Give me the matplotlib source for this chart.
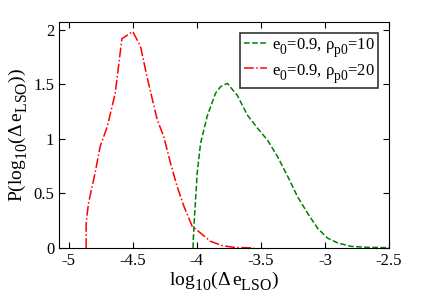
import matplotlib
matplotlib.use('Agg')
import matplotlib.pyplot as plt
import matplotlib._mathtext as mathtext_internal
import numpy as np

plt.rcParams['font.family'] = ['Liberation Serif', 'DejaVu Serif']
plt.rcParams['mathtext.fontset'] = 'custom'
plt.rcParams['mathtext.rm'] = 'Liberation Serif'
plt.rcParams['mathtext.it'] = 'Liberation Serif'
plt.rcParams['axes.unicode_minus'] = False
# MATLAB-style subscripts: a bit larger and lower than matplotlib's default
mathtext_internal.SHRINK_FACTOR = 0.82
mathtext_internal.FontConstantsBase.sub1 = 0.65
mathtext_internal.FontConstantsBase.sub2 = 0.75

# e0=0.9, rho_p0=10 (green dashed)
x_g = [-4.029, -4.029, -4.018, -3.997, -3.971, -3.919, -3.854, -3.815, -3.762, -3.684,
       -3.606, -3.527, -3.449, -3.371, -3.292, -3.214, -3.136, -3.057, -2.979, -2.90,
       -2.796, -2.666, -2.50]
y_g = [0.0, 0.05, 0.29, 0.69, 0.96, 1.21, 1.42, 1.48, 1.51, 1.40,
       1.22, 1.10, 0.99, 0.84, 0.66, 0.47, 0.32, 0.18, 0.09, 0.046,
       0.015, 0.006, 0.003]

# e0=0.9, rho_p0=20 (red dash-dot)
x_r = [-4.864, -4.864, -4.846, -4.794, -4.755, -4.70, -4.637, -4.585, -4.546, -4.50,
       -4.44, -4.389, -4.31, -4.258, -4.206, -4.154, -4.10, -4.037, -3.971, -3.893,
       -3.80, -3.71, -3.553]
y_r = [0.0, 0.23, 0.41, 0.69, 0.93, 1.11, 1.42, 1.92, 1.95, 1.985,
       1.85, 1.57, 1.18, 1.02, 0.78, 0.565, 0.38, 0.20, 0.137, 0.061,
       0.021, 0.006, 0.0]

xticks = [-5, -4.5, -4, -3.5, -3, -2.5]
yticks = [0, 0.5, 1, 1.5, 2]

fig = plt.figure(figsize=(4.31, 3.05), dpi=100)
ax = fig.add_axes([59/431, 1 - 248/305, 330/431, 226/305])

ax.plot(x_g, y_g, color=(0, 0.5, 0), linestyle='--', lw=1.1,
        label=r'e$_0$=0.9, $\rho_{\rm p0}$=10')
ax.plot(x_r, y_r, color='red', linestyle='-.', lw=1.1,
        label=r'e$_0$=0.9, $\rho_{\rm p0}$=20')

ax.set_xlim(-5.076, -2.5)
ax.set_ylim(0, 2.073)
ax.set_xticks(xticks)
ax.set_xticklabels(['-5', '-4.5', '-4', '-3.5', '-3', '-2.5'])
ax.set_yticks(yticks)
ax.set_yticklabels(['0', '0.5', '1', '1.5', '2'])
ax.tick_params(direction='in', top=True, right=True, labelsize=12, length=4, width=0.8)
for s in ax.spines.values():
    s.set_linewidth(0.8)

ax.set_xlabel(r'log$_{10}$($\Delta\,$e$_{\rm LSO}$)', fontsize=14, labelpad=0)
ax.set_ylabel(r'P(log$_{10}$($\Delta\,$e$_{\rm LSO}$))', fontsize=14, labelpad=2)

leg = ax.legend(loc='upper right', fontsize=12, frameon=True, fancybox=False,
                edgecolor='black', handlelength=1.4, borderaxespad=0.65,
                handletextpad=0.3, borderpad=0.2, labelspacing=0.15)
leg.get_frame().set_linewidth(1.2)

fig.savefig('out.png', dpi=100)
